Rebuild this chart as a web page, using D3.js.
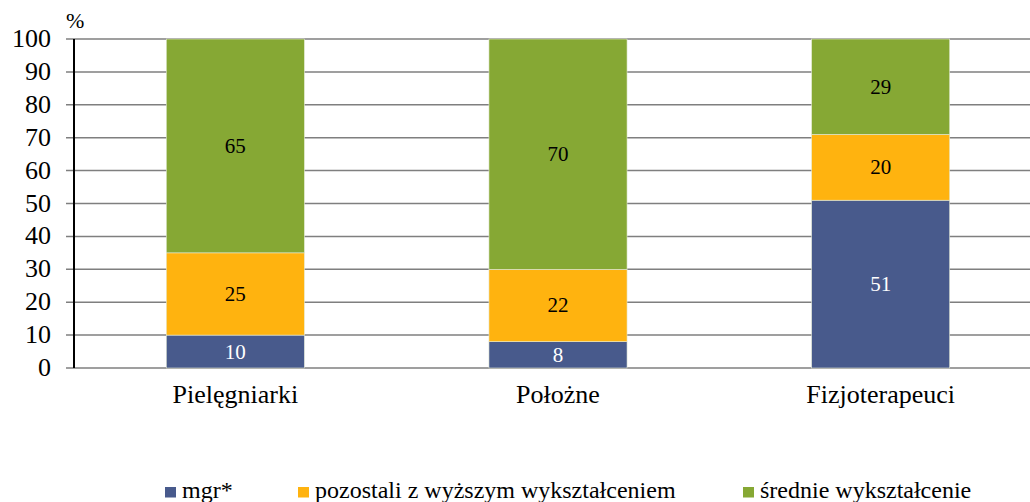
<!DOCTYPE html>
<html><head><meta charset="utf-8">
<script src="https://cdn.jsdelivr.net/npm/d3@7"></script>
<style>
body{margin:0;background:#fff}
#wrap{position:relative;width:1030px;height:502px;overflow:hidden}
#wrap svg{position:absolute;left:0;top:0;display:block}
.t{position:absolute;font-family:'Liberation Serif','Times New Roman',serif;line-height:1;white-space:nowrap;color:#000}
</style>
</head><body><div id="wrap"><svg id="c" width="1030" height="502"></svg></div>
<script>
const categories = ["Pielęgniarki", "Położne", "Fizjoterapeuci"];
const seriesNames = ["mgr*", "pozostali z wyższym wykształceniem", "średnie wykształcenie"];
const mgr = [10, 8, 51];
const pozostali = [25, 22, 20];
const srednie = [65, 70, 29];
const yTicks = [0, 10, 20, 30, 40, 50, 60, 70, 80, 90, 100];
const colors = ["#485A8C", "#FFB30F", "#86A834"];
const labelColors = ["#ffffff", "#000000", "#000000"];

const wrap = d3.select("#wrap");
const svg = d3.select("#c");
const mLeft = 74, mTop = 39, mBottom = 368, mRight = 1042;
const x = d3.scaleBand().domain(categories).range([mLeft, mRight]).paddingInner(0.572).paddingOuter(0.286);
const y = d3.scaleLinear().domain([0, 100]).range([mBottom, mTop]);

const rows = categories.map((c, i) => ({cat: c, mgr: mgr[i], poz: pozostali[i], sr: srednie[i]}));
const stack = d3.stack().keys(["mgr", "poz", "sr"])(rows);

function label(txt, px, py, size, anchor, color) {
  const tx = anchor === "middle" ? "-50%" : anchor === "end" ? "-100%" : "0";
  return wrap.append("div").attr("class", "t")
    .style("left", px + "px").style("top", py + "px")
    .style("font-size", size + "px")
    .style("color", color || "#000")
    .style("transform", `translate(${tx},-50%)`)
    .text(txt);
}

// gridlines
svg.append("g").selectAll("line").data(yTicks).join("line")
  .attr("x1", mLeft - 8).attr("x2", 1030)
  .attr("y1", d => y(d)).attr("y2", d => y(d))
  .attr("stroke", "#7f7f7f").attr("stroke-width", 1.5);

// bars
stack.forEach((s, si) => {
  svg.append("g").selectAll("rect").data(s).join("rect")
    .attr("x", d => x(d.data.cat))
    .attr("width", x.bandwidth())
    .attr("y", d => y(d[1]))
    .attr("height", d => y(d[0]) - y(d[1]))
    .attr("fill", colors[si])
    .attr("stroke", "#e6ecd8").attr("stroke-width", 0.6);
  s.forEach(d => label(d[1] - d[0], x(d.data.cat) + x.bandwidth() / 2, y((d[0] + d[1]) / 2), 21, "middle", labelColors[si]));
});

// y axis line
svg.append("line").attr("x1", mLeft).attr("x2", mLeft).attr("y1", mTop).attr("y2", mBottom)
  .attr("stroke", "#000").attr("stroke-width", 2);

// y tick labels
yTicks.forEach(d => label(d, 51, y(d), 26, "end"));
label("%", 66, 21, 22, "start");

// x labels
categories.forEach(c => label(c, x(c) + x.bandwidth() / 2, 395, 26, "middle"));

// legend
const legendX = [165, 298, 743];
svg.append("g").selectAll("rect").data(seriesNames).join("rect")
  .attr("x", (d, i) => legendX[i]).attr("y", 487).attr("width", 11).attr("height", 10.5)
  .attr("fill", (d, i) => colors[i]);
seriesNames.forEach((n, i) => label(n, legendX[i] + 17, 490, 24, "start"));
</script></body></html>
